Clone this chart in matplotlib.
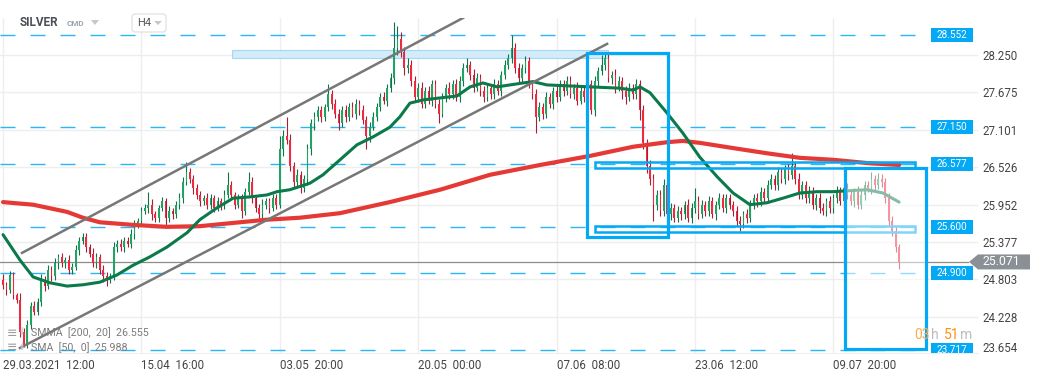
import numpy as np
import matplotlib.pyplot as plt
import matplotlib.transforms as mtransforms
from matplotlib.patches import Rectangle, Polygon, FancyBboxPatch

plt.rcParams['font.family'] = ['Roboto', 'DejaVu Sans']
plt.rcParams['lines.scale_dashes'] = False

W, H = 1041, 380

# ---- price data (H4 candles) ----
first_open = 24.80
closes = [
    24.72, 24.64, 24.87, 24.56, 24.49, 24.00, 23.80, 24.10, 24.40, 24.30,
    24.45, 24.80, 24.70, 24.95, 24.85, 25.05, 25.15, 25.05, 25.10, 24.95,
    25.00, 25.25, 25.40, 25.45, 25.30, 25.20, 25.05, 25.15, 24.95, 24.85,
    24.80, 24.85, 25.30, 25.35, 25.30, 25.40, 25.35, 25.50, 25.65, 25.70,
    25.85, 25.90, 25.95, 25.80, 25.75, 25.90, 26.00, 25.75, 25.85, 25.80,
    25.95, 26.05, 26.30, 26.45, 26.35, 26.20, 26.10, 26.00, 26.05, 25.95,
    26.05, 25.90, 26.00, 25.95, 26.10, 26.25, 26.10, 25.95, 26.05, 25.85,
    26.15, 26.30, 26.05, 25.90, 25.80, 25.95, 26.00, 25.90, 26.05, 25.95,
    26.80, 27.00, 26.95, 26.55, 26.30, 26.40, 26.20, 26.35, 26.80, 27.20,
    27.30, 27.40, 27.30, 27.45, 27.65, 27.50, 27.35, 27.20, 27.40, 27.30,
    27.45, 27.35, 27.50, 27.40, 27.25, 27.00, 27.15, 27.30, 27.45, 27.60,
    27.55, 27.75, 27.90, 28.35, 28.50, 28.30, 28.05, 28.10, 27.85, 27.60,
    27.75, 27.50, 27.70, 27.55, 27.80, 27.50, 27.35, 27.60, 27.75, 27.65,
    27.80, 27.60, 27.85, 28.05, 28.10, 27.95, 27.75, 27.90, 27.70, 27.60,
    27.75, 27.65, 27.80, 27.70, 27.95, 28.10, 28.20, 28.35, 28.05, 27.90,
    28.05, 28.15, 27.80, 27.65, 27.30, 27.45, 27.35, 27.60, 27.50, 27.70,
    27.60, 27.80, 27.70, 27.85, 27.65, 27.75, 27.55, 27.70, 27.60, 27.80,
    27.40, 27.85, 28.00, 28.10, 28.20, 27.90, 27.95, 27.75, 27.85, 27.70,
    27.60, 27.75, 27.65, 27.80, 27.40, 26.90, 26.55, 26.35, 25.95, 26.10,
    25.85, 26.25, 25.80, 25.90, 25.75, 25.85, 25.80, 25.95, 25.75, 25.90,
    26.00, 25.80, 25.95, 25.85, 26.00, 25.80, 25.95, 26.05, 25.90, 26.05,
    25.95, 25.85, 25.70, 25.65, 25.80, 25.75, 25.95, 26.05, 26.00, 26.15,
    26.05, 26.25, 26.35, 26.25, 26.45, 26.35, 26.50, 26.40, 26.55, 26.35,
    26.10, 26.25, 26.05, 26.15, 25.95, 26.05, 25.90, 25.85, 26.00, 25.90,
    26.05, 26.15, 26.00, 26.20, 26.10, 26.00, 26.15, 25.95, 26.10, 26.25,
    26.20, 26.35, 26.25, 26.35, 26.30, 26.05, 25.70, 25.55, 25.30, 25.07,
]
# wick lengths above / below the body, in cents
wick_up = [
    8, 5, 6, 4, 3, 10, 6, 8, 5, 7,
    6, 8, 5, 7, 6, 8, 5, 6, 4, 7,
    5, 8, 6, 7, 6, 5, 8, 6, 5, 7,
    6, 5, 8, 6, 7, 5, 6, 8, 6, 5,
    7, 6, 20, 8, 6, 5, 7, 6, 8, 5,
    6, 8, 7, 15, 6, 5, 7, 6, 5, 8,
    6, 5, 7, 6, 8, 20, 6, 5, 7, 6,
    6, 15, 7, 5, 6, 8, 6, 5, 7, 6,
    20, 10, 30, 8, 6, 10, 7, 6, 8, 6,
    8, 6, 7, 5, 15, 6, 8, 7, 6, 8,
    6, 8, 7, 6, 8, 6, 7, 8, 6, 7,
    8, 6, 7, 40, 20, 10, 8, 10, 7, 8,
    7, 8, 6, 8, 7, 6, 8, 7, 6, 8,
    6, 8, 7, 8, 10, 6, 8, 7, 6, 8,
    7, 6, 8, 7, 6, 8, 7, 20, 8, 7,
    6, 8, 7, 6, 8, 7, 6, 8, 7, 6,
    8, 7, 6, 8, 7, 6, 8, 7, 6, 8,
    6, 8, 7, 15, 8, 7, 6, 8, 7, 6,
    8, 7, 6, 8, 6, 8, 6, 8, 7, 8,
    8, 10, 7, 8, 6, 8, 7, 6, 8, 7,
    20, 8, 7, 6, 8, 7, 6, 8, 7, 6,
    7, 6, 8, 7, 6, 8, 7, 6, 8, 7,
    6, 8, 7, 6, 8, 7, 6, 8, 20, 6,
    8, 7, 6, 8, 7, 6, 8, 7, 6, 8,
    6, 8, 7, 6, 8, 7, 6, 8, 7, 6,
    7, 10, 6, 8, 7, 6, 8, 7, 6, 5,
]
wick_dn = [
    6, 8, 5, 6, 5, 8, 4, 5, 6, 5,
    5, 6, 8, 5, 7, 6, 8, 5, 7, 6,
    6, 5, 7, 6, 8, 5, 6, 7, 6, 8,
    10, 6, 5, 7, 6, 8, 5, 6, 7, 6,
    6, 5, 7, 8, 6, 7, 5, 12, 6, 7,
    5, 6, 7, 5, 6, 8, 6, 7, 5, 6,
    7, 6, 5, 8, 6, 5, 7, 6, 5, 10,
    6, 5, 7, 6, 8, 5, 6, 7, 5, 6,
    5, 10, 6, 8, 10, 6, 7, 6, 10, 8,
    10, 6, 8, 7, 6, 8, 7, 10, 6, 8,
    7, 6, 8, 7, 6, 20, 8, 6, 7, 6,
    6, 8, 7, 10, 10, 8, 10, 7, 8, 6,
    8, 6, 7, 6, 8, 7, 15, 6, 8, 7,
    7, 6, 8, 7, 6, 8, 7, 6, 8, 7,
    6, 8, 7, 6, 8, 7, 6, 8, 7, 6,
    8, 7, 6, 8, 25, 6, 8, 7, 6, 8,
    7, 6, 8, 7, 6, 8, 7, 6, 8, 7,
    5, 8, 7, 6, 8, 7, 10, 8, 6, 12,
    10, 6, 8, 7, 15, 10, 12, 10, 25, 8,
    8, 7, 15, 8, 7, 6, 8, 7, 6, 8,
    8, 7, 6, 8, 7, 6, 8, 7, 6, 8,
    6, 8, 7, 10, 6, 8, 7, 6, 8, 7,
    8, 7, 6, 8, 7, 6, 8, 7, 6, 8,
    7, 6, 8, 7, 6, 8, 7, 6, 8, 7,
    8, 7, 6, 8, 7, 6, 8, 7, 6, 8,
    6, 8, 7, 6, 8, 7, 6, 8, 7, 10,
]

# indicators (bar index -> value)
smma_idx = [0, 8.7, 18.5, 23.1, 28, 37.6, 47.4, 56.9, 66.5, 76.3, 85.8, 97.4, 111.8,
            126.3, 140.8, 155.2, 169.7, 182.1, 191.9, 196.5, 201.4, 211, 220.8,
            230.3, 239.9, 249.7, 259]
smma_val = [25.99, 25.95, 25.84, 25.75, 25.68, 25.64, 25.61, 25.62, 25.67, 25.72, 25.75,
            25.82, 25.99, 26.18, 26.41, 26.56, 26.70, 26.84, 26.91, 26.93, 26.90,
            26.82, 26.74, 26.67, 26.64, 26.59, 26.56]
sma_idx = [0, 4.9, 8.7, 13.6, 18.5, 23.1, 28, 32.9, 37.6, 42.5, 47.4, 53.2, 56.9, 61.8,
           66.5, 71.4, 76.3, 79.2, 82.9, 88.7, 92.5, 97.4, 102.3, 106.9, 111.8, 114.7,
           117.6, 121.4, 131.2, 135, 138.7, 142.8, 150.3, 153.2, 157.2, 169.7, 178.3,
           182.1, 184.1, 187, 191.9, 196.5, 201.4, 206.4, 211, 215.9, 220.8, 225.4,
           230.3, 235.3, 239.9, 242.8, 249.7, 254.3, 259]
sma_val = [25.49, 25.10, 24.84, 24.75, 24.70, 24.72, 24.76, 24.87, 25.02, 25.15, 25.30,
           25.52, 25.72, 25.90, 26.05, 26.07, 26.10, 26.15, 26.18, 26.28, 26.41, 26.64,
           26.87, 26.99, 27.14, 27.30, 27.51, 27.56, 27.62, 27.76, 27.82, 27.76, 27.82,
           27.84, 27.79, 27.76, 27.74, 27.71, 27.76, 27.67, 27.36, 27.05, 26.68, 26.38,
           26.13, 25.95, 25.98, 26.05, 26.13, 26.15, 26.15, 26.16, 26.18, 26.13, 25.99]

levels = [28.552, 27.150, 26.577, 25.600, 24.900, 23.717]
last_price = 25.071
price_ticks = [28.250, 27.675, 27.101, 26.526, 25.952, 25.377, 24.803, 24.228, 23.654]
date_ticks = [0, 40, 80, 120, 160, 200, 240]
date_labels = ['29.03.2021  12:00', '15.04  16:00', '03.05  20:00', '20.05  00:00',
               '07.06  08:00', '23.06  12:00', '09.07  20:00']

# user drawings on the chart: (bar index, price)
channel_up = [(5.5, 25.21), (133, 28.82)]
channel_dn = [(4.9, 23.75), (174.6, 28.42)]
zone_top = (66.2, 174.9, 28.20, 28.33)
box_left = (168.8, 192.2, 25.45, 28.28)
box_right = (243.4, 266.8, 23.73, 26.51)
band_hi = (171.1, 263.6, 26.51, 26.61)
band_lo = (171.1, 263.6, 25.53, 25.62)

# ---- candles ----
opens = [first_open] + closes[:-1]
highs = [max(o, c) + u / 100 for o, c, u in zip(opens, closes, wick_up)]
lows = [min(o, c) - d / 100 for o, c, d in zip(opens, closes, wick_dn)]
x = np.arange(len(closes))
is_up = np.array(closes) >= np.array(opens)

fig = plt.figure(figsize=(W / 100, H / 100), dpi=100)
ax = fig.add_axes([0, 27 / H, 978 / W, 335 / H])
ax.set_xlim(-0.87, 281.8)
ax.set_ylim(23.672, 28.818)

wick_cols = np.where(is_up, '#12704A', '#A81E34')
body_cols = np.where(is_up, '#1FA463', '#F0293E')
ax.vlines(x, lows, highs, colors=wick_cols, lw=0.8, zorder=3)
body_lo = np.minimum(opens, closes)
body_h = np.maximum(np.abs(np.array(closes) - np.array(opens)), 0.012)
ax.bar(x, body_h, bottom=body_lo, width=0.5, color=body_cols, lw=0, zorder=3.5)

ax.plot(smma_idx, smma_val, color='#E53935', lw=3, solid_capstyle='round', zorder=4)
ax.plot(sma_idx, sma_val, color='#0B7A4B', lw=2.2, solid_capstyle='round', zorder=4.5)

# horizontal levels
for lv in levels:
    ax.plot([-1, 263.6], [lv, lv], color='#29B6F6', lw=1, dashes=(10.8, 10.8), zorder=2)
ax.plot([-1, 279], [last_price, last_price], color='#8C8C8C', lw=0.9, zorder=2)

x0, x1, p0, p1 = zone_top
ax.add_patch(Rectangle((x0, p0), x1 - x0, p1 - p0, fc='#D3ECFA', ec='#A4D7F4', lw=0.8, zorder=2.5))

for ch in (channel_up, channel_dn):
    ax.plot([ch[0][0], ch[1][0]], [ch[0][1], ch[1][1]], color='#777777', lw=1.8, zorder=5)

for b in (band_hi, band_lo):
    x0, x1, p0, p1 = b
    ax.add_patch(Rectangle((x0, p0), x1 - x0, p1 - p0, fc='none', ec='#03A9F4', lw=1.8, zorder=5.5))

x0, x1, p0, p1 = box_right
ax.add_patch(Rectangle((x0, p0), x1 - x0, p1 - p0, fc=(1, 1, 1, 0.5), ec='none', zorder=6))
for b in (box_left, box_right):
    x0, x1, p0, p1 = b
    ax.add_patch(Rectangle((x0, p0), x1 - x0, p1 - p0, fc='none', ec='#03A9F4', lw=2.3, zorder=7))

# value tags of the levels
trans = mtransforms.blended_transform_factory(ax.transAxes, ax.transData)
tag_h = 14 / 65.09
for lv in levels:
    ax.add_patch(Rectangle((931 / 978, lv - tag_h / 2), 42 / 978, tag_h, transform=trans,
                           fc='#03A9F4', ec='none', zorder=9))
    ax.text(952 / 978, lv, '%.3f' % lv, transform=trans, ha='center', va='center',
            color='white', fontsize=7.2, zorder=10)

# axes look
ax.set_yticks(price_ticks[:-1])
ax.set_yticklabels(['%.3f' % v for v in price_ticks[:-1]])
ax.yaxis.tick_right()
ax.tick_params(axis='y', length=0, pad=3, labelsize=8.3, labelcolor='#444444')
ax.set_xticks(date_ticks)
ax.set_xticklabels(date_labels, ha='left')
ax.tick_params(axis='x', length=0, pad=4, labelsize=8.3, labelcolor='#444444')
ax.grid(color='#EEEEEE', lw=1)
ax.set_axisbelow(True)
for s in ('top', 'left', 'right'):
    ax.spines[s].set_visible(False)
ax.spines['bottom'].set_color('#EEEEEE')

# ---- extra text in pixel coordinates ----
px = mtransforms.IdentityTransform()


def ftext(xp, yp, s, **kw):
    fig.text(xp, H - yp, s, transform=px, va='center', zorder=20, **kw)


ftext(982, 349, '%.3f' % price_ticks[-1], fontsize=8.3, color='#444444')

# last price tag
yl = 55 + (28.25 - last_price) * 65.09
fig.add_artist(Polygon([(969, H - yl), (978, H - yl + 7.5), (1030, H - yl + 7.5),
                        (1030, H - yl - 7.5), (978, H - yl - 7.5)], closed=True,
                       transform=px, fc='#8A9096', ec='none'))
ftext(1001, yl, '%.3f' % last_price, fontsize=8.8, color='white', ha='center')

# header
ftext(20, 23, 'SILVER', fontsize=8.5, weight='bold', color='#4A4F55')
ftext(67, 24, 'CMD', fontsize=5.8, weight='bold', color='#9AA4AE')
fig.add_artist(Polygon([(91, H - 20), (99, H - 20), (95, H - 25)], transform=px, fc='#C4C8CC', ec='none'))
fig.add_artist(FancyBboxPatch((132, H - 32), 34, 18, boxstyle='round,pad=0,rounding_size=3',
                              transform=px, fc='white', ec='#DDDDDD', lw=0.8))
ftext(137, 23, 'H4', fontsize=8, color='#555555')
fig.add_artist(Polygon([(154, H - 21), (162, H - 21), (158, H - 25)], transform=px, fc='#C4C8CC', ec='none'))

# indicator legend
ftext(7, 333, '≡', fontsize=9, color='#9A9A9A')
ftext(7, 348, '≡', fontsize=9, color='#9A9A9A')
ftext(19, 332, 'ıl', fontsize=7.5, color='#C8C8C8')
ftext(19, 347, 'ıl', fontsize=7.5, color='#C8C8C8')
ftext(31, 333, 'SMMA  [200,  20]  26.555', fontsize=7.7, color='#7B7B7B')
ftext(31, 348, 'SMA  [50,  0]  25.988', fontsize=7.7, color='#7B7B7B')

# candle timer
ftext(914, 335, '03', fontsize=10, color='#FFA94D')
ftext(931, 335, 'h', fontsize=10, color='#BDBDBD')
ftext(944, 335, '51', fontsize=10, color='#FF9010')
ftext(960, 335, 'm', fontsize=10, color='#BDBDBD')

fig.savefig('out.png', dpi=100)
